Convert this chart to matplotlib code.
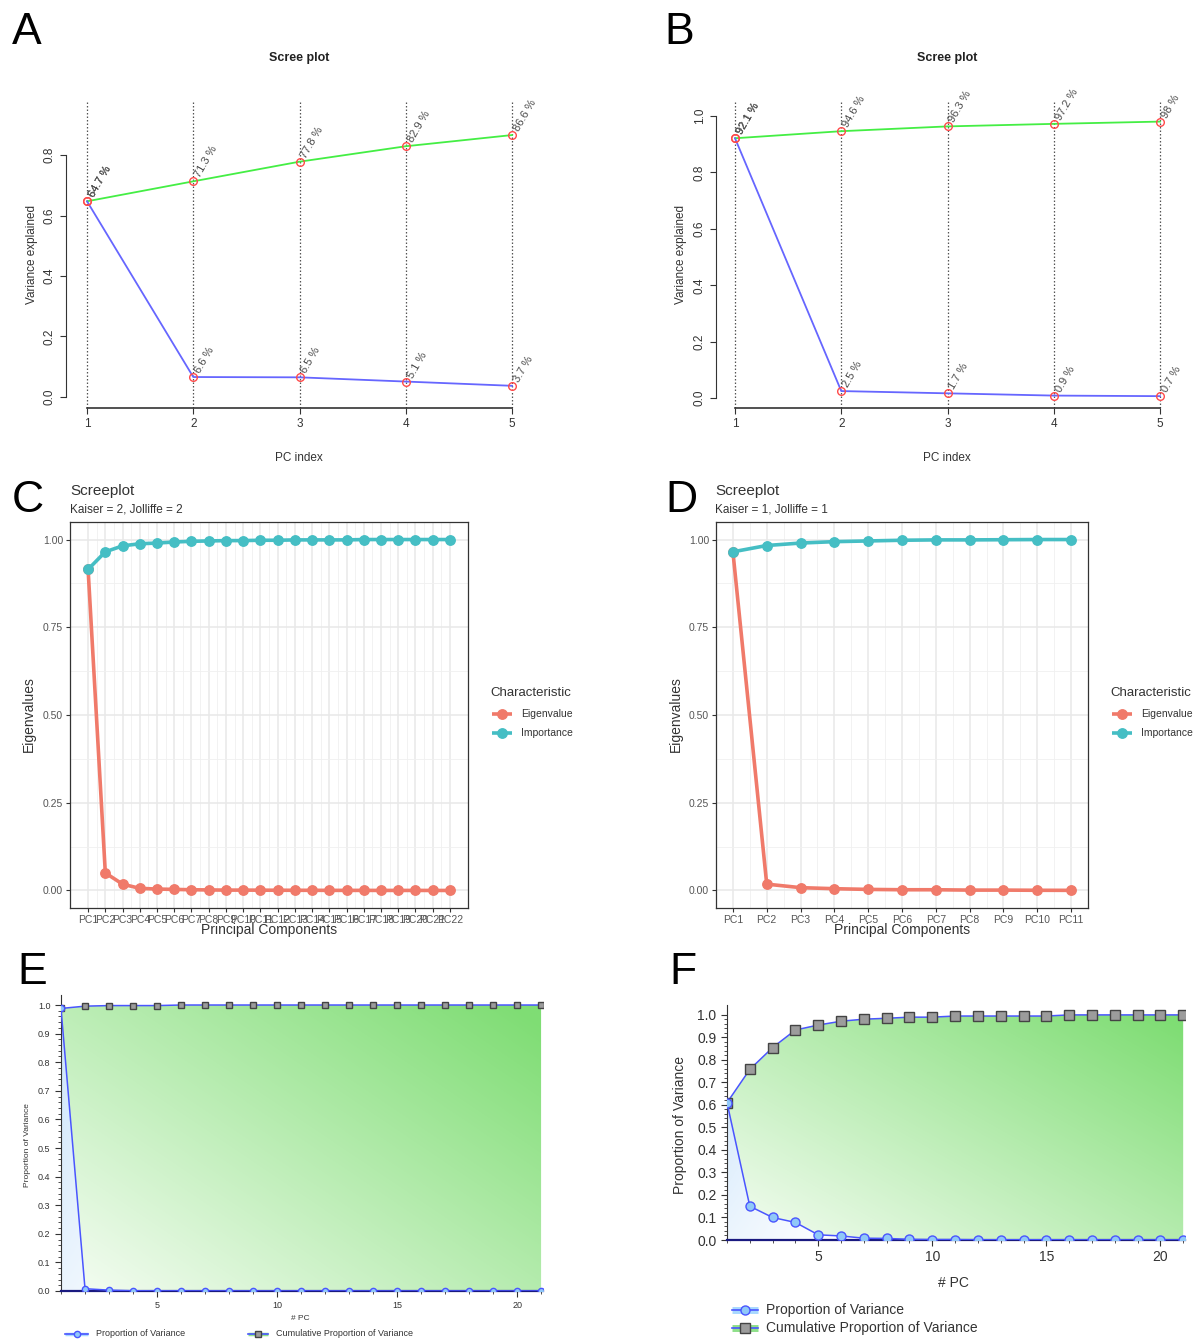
import matplotlib
matplotlib.use("Agg")
import matplotlib.pyplot as plt
import numpy as np
from matplotlib.patches import Polygon

plt.rcParams['font.family'] = ['Liberation Sans', 'DejaVu Sans']

W, H = 1197, 1340

# ---- data -------------------------------------------------------------
pc_ab = [1, 2, 3, 4, 5]
a_prop = [0.647, 0.066, 0.065, 0.051, 0.037]
a_cum = [0.647, 0.713, 0.778, 0.829, 0.866]
a_prop_lab = ['64.7 %', '6.6 %', '6.5 %', '5.1 %', '3.7 %']
a_cum_lab = ['64.7 %', '71.3 %', '77.8 %', '82.9 %', '86.6 %']

b_prop = [0.921, 0.025, 0.017, 0.009, 0.007]
b_cum = [0.921, 0.946, 0.963, 0.972, 0.980]
b_prop_lab = ['92.1 %', '2.5 %', '1.7 %', '0.9 %', '0.7 %']
b_cum_lab = ['92.1 %', '94.6 %', '96.3 %', '97.2 %', '98 %']

c_eigen = [0.915, 0.050, 0.018, 0.006, 0.004, 0.003, 0.002, 0.0015, 0.001, 0.001, 0.0008,
           0.0006, 0.0005, 0.0004, 0.0003, 0.0002, 0.0002, 0.0001, 0.0001, 0.0001, 0.0, 0.0]
c_import = [0.915, 0.965, 0.982, 0.988, 0.990, 0.993, 0.995, 0.996, 0.997, 0.997, 0.998,
            0.998, 0.999, 0.999, 0.999, 0.999, 1.0, 1.0, 1.0, 1.0, 1.0, 1.0]
c_labels = ['PC%d' % i for i in range(1, 23)]

d_eigen = [0.965, 0.018, 0.008, 0.005, 0.003, 0.002, 0.002, 0.001, 0.001, 0.0005, 0.0003]
d_import = [0.965, 0.983, 0.990, 0.994, 0.996, 0.998, 0.999, 0.999, 0.9995, 1.0, 1.0]
d_labels = ['PC%d' % i for i in range(1, 12)]

pc_ef = list(range(1, 22))
e_prop = [0.988, 0.008, 0.003, 0.0008, 0.0005, 0.0003, 0.0002, 0.0002, 0.0001, 0.0001, 0.0001,
          0.0, 0.0, 0.0, 0.0, 0.0, 0.0, 0.0, 0.0, 0.0, 0.0]
e_cum = [0.988, 0.996, 0.998, 0.998, 0.998, 1.0, 1.0, 1.0, 1.0, 1.0, 1.0,
         1.0, 1.0, 1.0, 1.0, 1.0, 1.0, 1.0, 1.0, 1.0, 1.0]

f_prop = [0.610, 0.150, 0.100, 0.078, 0.023, 0.018, 0.008, 0.007, 0.003, 0.002, 0.002,
          0.001, 0.001, 0.001, 0.001, 0.001, 0.0005, 0.0005, 0.0005, 0.0003, 0.0003]
f_cum = [0.610, 0.758, 0.855, 0.933, 0.955, 0.972, 0.981, 0.985, 0.990, 0.990, 0.995,
         0.995, 0.995, 0.995, 0.995, 1.0, 1.0, 1.0, 1.0, 1.0, 1.0]

RED = '#f07a6a'
CYAN = '#45bec4'

fig = plt.figure(figsize=(W / 100, H / 100), dpi=100)


def px_axes(x0, y0, x1, y1):
    return fig.add_axes([x0 / W, 1 - y1 / H, (x1 - x0) / W, (y1 - y0) / H])


# overlay in pixel coordinates for labels / legends
ov = fig.add_axes([0, 0, 1, 1], zorder=10)
ov.set_xlim(0, W)
ov.set_ylim(H, 0)
ov.axis('off')
ov.patch.set_alpha(0)


def txt(x, y, s, **kw):
    kw.setdefault('ha', 'center')
    kw.setdefault('va', 'center')
    ov.text(x, y, s, **kw)


# ---- A / B : base-R style scree plots ---------------------------------
def scree_base(box, xlim, ylim, yticks, prop, cum, prop_lab, cum_lab):
    ax = px_axes(*box)
    ax.set_xlim(*xlim)
    ax.set_ylim(*ylim)
    frac = (box[3] - 100) / (box[3] - box[1])
    for x in pc_ab:
        ax.axvline(x, ymin=0, ymax=frac, ls=(0, (1.2, 1.6)), color='#555555', lw=0.9, zorder=1)
    ax.plot(pc_ab, cum, color='#44ee44', lw=1.3, zorder=2)
    ax.plot(pc_ab, prop, color='#6666ff', lw=1.3, zorder=2)
    for ser in (cum, prop):
        ax.plot(pc_ab, ser, 'o', mfc='none', mec='#ff4a4a', ms=5.5, mew=1.0, zorder=3)
    for ser, labs in ((cum, cum_lab), (prop, prop_lab)):
        for x, y, s in zip(pc_ab, ser, labs):
            ax.annotate(s, (x, y), xytext=(0, 5), textcoords='offset points', rotation=60,
                        rotation_mode='anchor', ha='left', va='top', fontsize=8,
                        color='#4a4a4a')
    for sp in ('top', 'right'):
        ax.spines[sp].set_visible(False)
    ax.spines['left'].set_bounds(yticks[0], yticks[-1])
    ax.spines['bottom'].set_bounds(1, 5)
    ax.spines['left'].set_color('#333333')
    ax.spines['bottom'].set_color('#333333')
    ax.spines['bottom'].set_linewidth(1.2)
    ax.set_xticks(pc_ab)
    ax.set_yticks(yticks)
    ax.set_yticklabels(['%.1f' % v for v in yticks])
    ax.tick_params(axis='both', labelsize=8.5, colors='#333333', length=4, labelcolor='#333333')
    ax.tick_params(axis='y', labelrotation=90)
    for lab in ax.get_yticklabels():
        lab.set_va('center')
    ax.patch.set_alpha(0)
    return ax


scree_base((66, 90, 530, 408), (0.802, 5.169), (-0.0364, 1.015),
           [0.0, 0.2, 0.4, 0.6, 0.8], a_prop, a_cum, a_prop_lab, a_cum_lab)
scree_base((716, 90, 1180, 408), (0.821, 5.188), (-0.035, 1.092),
           [0.0, 0.2, 0.4, 0.6, 0.8, 1.0], b_prop, b_cum, b_prop_lab, b_cum_lab)

for cx in (299, 947):
    txt(cx, 58, 'Scree plot', fontsize=9, fontweight='bold', color='#222222')
    txt(cx, 458, 'PC index', fontsize=8.5, color='#333333')
txt(32, 255, 'Variance explained', rotation=90, fontsize=8.5, color='#333333')
txt(681, 255, 'Variance explained', rotation=90, fontsize=8.5, color='#333333')


# ---- C / D : ggplot style screeplots ----------------------------------
def gg_panel(box, eig, imp, labels, tick_fs):
    n = len(eig)
    x = np.arange(1, n + 1)
    ax = px_axes(*box)
    ax.set_xlim(1 - 0.05 * (n - 1), n + 0.05 * (n - 1))
    ax.set_ylim(-0.05, 1.05)
    ax.set_xticks(x)
    ax.set_xticklabels(labels)
    ax.set_xticks(x[:-1] + 0.5, minor=True)
    ax.set_yticks([0, 0.25, 0.5, 0.75, 1.0])
    ax.set_yticklabels(['0.00', '0.25', '0.50', '0.75', '1.00'])
    ax.set_yticks([0.125, 0.375, 0.625, 0.875], minor=True)
    ax.grid(which='major', color='#e8e8e8', lw=1.1)
    ax.grid(which='minor', color='#f0f0f0', lw=0.6)
    ax.set_axisbelow(True)
    ax.plot(x, eig, color=RED, lw=2.6, marker='o', ms=6.8, zorder=3)
    ax.plot(x, imp, color=CYAN, lw=2.6, marker='o', ms=6.8, zorder=4)
    for sp in ax.spines.values():
        sp.set_color('#333333')
        sp.set_linewidth(0.9)
    ax.tick_params(which='major', length=3, color='#333333', labelsize=tick_fs,
                   labelcolor='#555555', pad=2)
    ax.tick_params(which='minor', length=0)
    return ax


gg_panel((70, 522, 468, 908), c_eigen, c_import, c_labels, 7.5)
gg_panel((716, 522, 1088, 908), d_eigen, d_import, d_labels, 7.5)

for x0, sub, xc, yl, lx in ((70, 'Kaiser = 2, Jolliffe = 2', 269, 29, 490),
                            (715, 'Kaiser = 1, Jolliffe = 1', 902, 676, 1110)):
    txt(x0, 491, 'Screeplot', ha='left', fontsize=11, color='#333333')
    txt(x0, 509, sub, ha='left', fontsize=8.5, color='#333333')
    txt(xc, 930, 'Principal Components', fontsize=10, color='#333333')
    txt(yl, 714, 'Eigenvalues', rotation=90, fontsize=10, color='#333333')
    txt(lx, 693, 'Characteristic', ha='left', fontsize=9.5, color='#333333')
    for yy, col, lab in ((714, RED, 'Eigenvalue'), (733, CYAN, 'Importance')):
        ov.plot([lx + 2, lx + 22], [yy, yy], color=col, lw=2.6, solid_capstyle='butt')
        ov.plot([lx + 12], [yy], 'o', color=col, ms=6.8)
        txt(lx + 31, yy, lab, ha='left', fontsize=7.5, color='#333333')


# ---- E / F : gradient-filled variance plots ---------------------------
def gradient_fill(ax, x, top, bottom, xr, yr, c0, c1, mode):
    verts = list(zip(x, top)) + list(zip(x[::-1], bottom[::-1]))
    poly = Polygon(verts, closed=True, facecolor='none', edgecolor='none')
    ax.add_patch(poly)
    n = 300
    u = np.linspace(0, 1, n)
    U, V = np.meshgrid(u, u)
    if mode == 'green':
        t = np.clip(0.55 * U + 0.5 * V, 0, 1)
    else:
        xs = xr[0] + U * (xr[1] - xr[0])
        t = np.clip(1 - (xs - 1) / 5.0, 0, 1) * (0.35 + 0.65 * V)
    c0 = np.array(matplotlib.colors.to_rgb(c0))
    c1 = np.array(matplotlib.colors.to_rgb(c1))
    img = c0 + (c1 - c0) * t[..., None]
    im = ax.imshow(img, extent=[xr[0], xr[1], yr[0], yr[1]], origin='lower', aspect='auto',
                   zorder=0, interpolation='bilinear')
    im.set_clip_path(poly)


def var_panel(box, prop, cum, ylim, fs, ms_c, ms_s):
    x = np.array(pc_ef, dtype=float)
    prop = np.array(prop)
    cum = np.array(cum)
    ax = px_axes(*box)
    xr = (1, 21.08)
    ax.set_xlim(*xr)
    ax.set_ylim(*ylim)
    gradient_fill(ax, x, cum, prop, xr, ylim, '#f6fdf4', '#7fdd74', 'green')
    gradient_fill(ax, x, prop, np.zeros_like(prop), xr, ylim, '#ffffff', '#c9e3fb', 'blue')
    ax.plot(x, cum, color='#4a55ff', lw=1.1, marker='s', ms=ms_s, mfc='#9c9c9c',
            mec='#444444', mew=1.0, zorder=3)
    ax.plot(x, prop, color='#4a55ff', lw=1.1, marker='o', ms=ms_c, mfc='#90c8f8',
            mec='#4a55ff', mew=1.0, zorder=4)
    ax.spines['top'].set_visible(False)
    ax.spines['right'].set_visible(False)
    ax.spines['left'].set_color('#333333')
    ax.spines['bottom'].set_color('#1a1a80')
    ax.spines['bottom'].set_linewidth(1.6)
    ax.set_xticks([5, 10, 15, 20])
    ax.set_yticks(np.round(np.arange(0, 1.01, 0.1), 1))
    ax.set_yticks(np.arange(0, 1.0, 0.02), minor=True)
    ax.set_xticks(pc_ef, minor=True)
    ax.tick_params(which='major', length=4, color='#333333', labelsize=fs, labelcolor='#333333')
    ax.tick_params(which='minor', length=2, color='#333333')
    ax.yaxis.set_major_formatter(matplotlib.ticker.FormatStrFormatter('%.1f'))
    ax.patch.set_alpha(0)
    return ax


var_panel((61, 995, 543, 1291), e_prop, e_cum, (0, 1.035), 6.5, 4.5, 5)
var_panel((727, 1005, 1185, 1240), f_prop, f_cum, (0, 1.044), 10, 6.5, 7)

txt(28, 1145, 'Proportion of Variance', rotation=90, fontsize=6, color='#333333')
txt(300, 1318, '# PC', fontsize=6, color='#333333')
txt(680, 1125, 'Proportion of Variance', rotation=90, fontsize=10, color='#333333')
txt(953, 1283, '# PC', fontsize=10, color='#333333')


def legend_entry(x0, x1, y, band, marker, mfc, mec, ms, label, fs, lw_band):
    ov.plot([x0, x1], [y, y], color=band, lw=lw_band, solid_capstyle='butt')
    ov.plot([x0, x1], [y, y], color='#4a55ff', lw=1.2)
    ov.plot([(x0 + x1) / 2], [y], marker, mfc=mfc, mec=mec, ms=ms, mew=1.0)
    txt(x1 + 8, y, label, ha='left', fontsize=fs, color='#333333')


legend_entry(65, 88, 1334, '#a8d8ff', 'o', '#90c8f8', '#4a55ff', 4.5,
             'Proportion of Variance', 6.5, 2.5)
legend_entry(248, 268, 1334, '#8fe08a', 's', '#9c9c9c', '#444444', 5,
             'Cumulative Proportion of Variance', 6.5, 2.5)
legend_entry(732, 758, 1310, '#a8d8ff', 'o', '#90c8f8', '#4a55ff', 6.5,
             'Proportion of Variance', 10, 5)
legend_entry(732, 758, 1328, '#8fe08a', 's', '#9c9c9c', '#444444', 7,
             'Cumulative Proportion of Variance', 10, 5)

# ---- panel letters ----------------------------------------------------
for s, x, y in (('A', 27, 32), ('B', 679, 32), ('C', 28, 500), ('D', 681, 500),
                ('E', 32, 973), ('F', 683, 973)):
    txt(x, y, s, fontsize=32, color='black')

fig.savefig('out.png', dpi=100)
